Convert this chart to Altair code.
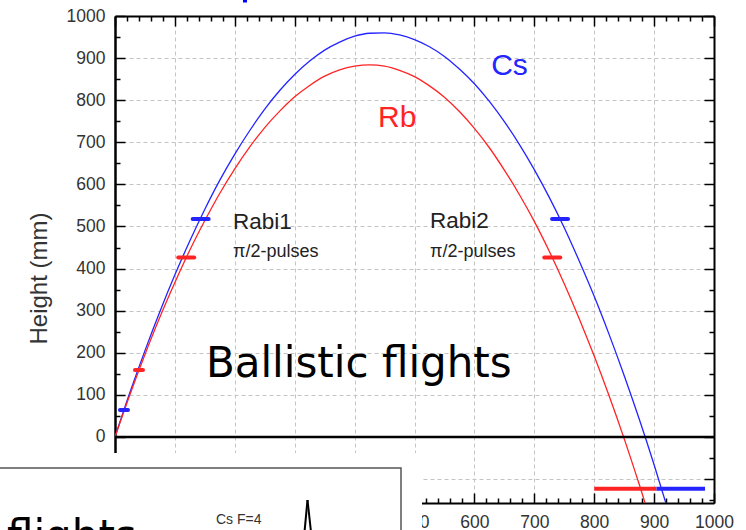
import altair as alt
import pandas as pd

# ---------------- data ----------------
time_ms = [0, 25, 50, 75, 100, 125, 150, 175, 200, 225, 250, 275, 300, 325, 350, 375, 400,
           425, 450, 475, 500, 525, 550, 575, 600, 625, 650, 675, 700, 725, 750, 775, 800,
           825, 850, 875, 900, 925]
cs_height_mm = [0, 106, 205, 298, 385, 466, 541, 610, 672, 728, 779, 823, 861, 893, 919, 938, 952,
                959, 960, 955, 944, 927, 904, 874, 839, 797, 749, 695, 635, 569, 497, 418, 334,
                243, 146, 43, -66, -182]
rb_height_mm = [0, 101, 196, 285, 367, 444, 514, 579, 637, 689, 735, 774, 808, 835, 857, 872, 881,
                884, 881, 871, 856, 834, 807, 773, 733, 687, 634, 576, 512, 441, 364, 281, 192,
                97, -4, -112, -225]

launch_species = ["Cs", "Rb"]
launch_t = [15, 40]
launch_h = [64, 159]

pulse_species = ["Cs", "Rb", "Cs", "Rb"]
pulse_t = [143, 119, 743, 730]
pulse_h = [518, 426, 518, 426]

detect_species = ["Rb", "Cs"]
detect_start = [800, 904]
detect_end = [904, 985]
detect_h = [-123, -123]

species_names = ["Cs", "Rb"]
species_label_t = [628, 439]
species_label_h = [860, 736]

rabi_titles = ["Rabi1", "Rabi2"]
rabi_subtitles = ["π/2-pulses", "π/2-pulses"]
rabi_t = [197, 526]
rabi_title_h = [494, 496]
rabi_sub_h = [428, 428]

center_text = ["Ballistic flights"]
center_t = [407]
center_h = [142]

x_label_values = [0, 100, 200, 300, 400, 500, 600, 700, 800, 900, 1000]
y_label_values = [-100, 0, 100, 200, 300, 400, 500, 600, 700, 800, 900, 1000]
x_minor_values = [v for v in range(0, 1001, 20) if v % 100 != 0]
y_minor_values = [-150, -50, 50, 150, 250, 350, 450, 550, 650, 750, 850, 950]

# ---------------- layout ----------------
W, H = 599, 487
FONT = "Liberation Sans"
AXC = "#333333"

xs = alt.Scale(domain=[0, 1000], nice=False, zero=False)
ys = alt.Scale(domain=[-157, 1000], nice=False, zero=False)
cs = alt.Scale(domain=["Cs", "Rb"], range=["#2424ff", "#ff2424"])

curves = pd.DataFrame({
    "species": ["Cs"] * len(cs_height_mm) + ["Rb"] * len(rb_height_mm),
    "t": time_ms[:len(cs_height_mm)] + time_ms[:len(rb_height_mm)],
    "h": cs_height_mm + rb_height_mm,
})

x_main = alt.Axis(orient="bottom", values=x_label_values, format="d", grid=True,
                  gridColor="#c4c4c4", gridDash=[4, 3], gridWidth=1, ticks=False, domain=True,
                  domainColor="black", domainWidth=2, labelFont=FONT, labelFontSize=17.5,
                  labelColor=AXC, labelPadding=10, labelFlush=False, title=None)
y_main = alt.Axis(orient="left", values=y_label_values, format="d", grid=True,
                  gridColor="#c4c4c4", gridDash=[4, 3], gridWidth=1, ticks=False, domain=True,
                  domainColor="black", domainWidth=2.5, labelFont=FONT, labelFontSize=17.5,
                  labelColor=AXC, labelPadding=10, title="Height (mm)", titleFont=FONT,
                  titleFontSize=24, titleFontWeight="normal", titleColor=AXC, titleX=-76,
                  titleY=262, titleAngle=270, titleBaseline="middle", titleAlign="center")

lines = alt.Chart(curves).mark_line(strokeWidth=1.3, clip=True, interpolate="monotone").encode(
    x=alt.X("t:Q", scale=xs, axis=x_main),
    y=alt.Y("h:Q", scale=ys, axis=y_main),
    color=alt.Color("species:N", scale=cs, legend=None),
)


def tick_axis(orient, offset, values, size, domain=False):
    return alt.Axis(orient=orient, offset=offset, values=values, tickSize=size, ticks=True,
                    tickColor="black", tickWidth=1.5, labels=False, grid=False, domain=domain,
                    domainColor="black", domainWidth=2, title=None)


def frame_layer(x_axis, y_axis):
    return alt.Chart(curves).mark_point(opacity=0).encode(
        x=alt.X("t:Q", scale=xs, axis=x_axis),
        y=alt.Y("h:Q", scale=ys, axis=y_axis),
    )


f1 = frame_layer(tick_axis("top", -H, x_label_values, 10), tick_axis("right", -W, y_label_values, 10))
f2 = frame_layer(tick_axis("bottom", -H, x_label_values, 10, True), tick_axis("left", -W, y_label_values, 10, True))
f3 = frame_layer(tick_axis("top", -H, x_minor_values, 5), tick_axis("right", -W, y_minor_values, 5))
f4 = frame_layer(tick_axis("bottom", -H, x_minor_values, 5), tick_axis("left", -W, y_minor_values, 5))

zero = alt.Chart(pd.DataFrame({"h": [0]})).mark_rule(color="black", strokeWidth=2.5).encode(
    y=alt.Y("h:Q", scale=ys, axis=None))

launch = alt.Chart(pd.DataFrame({"species": launch_species, "t": launch_t, "h": launch_h})).mark_point(
    shape="stroke", filled=False, size=64, strokeWidth=4, strokeCap="round", opacity=1).encode(
    x=alt.X("t:Q", scale=xs, axis=None), y=alt.Y("h:Q", scale=ys, axis=None),
    color=alt.Color("species:N", scale=cs, legend=None))

pulses = alt.Chart(pd.DataFrame({"species": pulse_species, "t": pulse_t, "h": pulse_h})).mark_point(
    shape="stroke", filled=False, size=256, strokeWidth=4, strokeCap="round", opacity=1).encode(
    x=alt.X("t:Q", scale=xs, axis=None), y=alt.Y("h:Q", scale=ys, axis=None),
    color=alt.Color("species:N", scale=cs, legend=None))

detect = alt.Chart(pd.DataFrame({"species": detect_species, "t0": detect_start, "t1": detect_end,
                                 "h": detect_h})).mark_rule(strokeWidth=4).encode(
    x=alt.X("t0:Q", scale=xs, axis=None), x2="t1:Q", y=alt.Y("h:Q", scale=ys, axis=None),
    color=alt.Color("species:N", scale=cs, legend=None))

species_labels = alt.Chart(pd.DataFrame({"species": species_names, "t": species_label_t,
                                         "h": species_label_h})).mark_text(
    font=FONT, fontSize=30, align="left", baseline="alphabetic").encode(
    x=alt.X("t:Q", scale=xs, axis=None), y=alt.Y("h:Q", scale=ys, axis=None),
    text="species:N", color=alt.Color("species:N", scale=cs, legend=None))

rabi_df = pd.DataFrame({"title": rabi_titles, "sub": rabi_subtitles, "t": rabi_t,
                        "h1": rabi_title_h, "h2": rabi_sub_h})
rabi1 = alt.Chart(rabi_df).mark_text(font=FONT, fontSize=22.5, align="left", baseline="alphabetic",
                                     color="#222222").encode(
    x=alt.X("t:Q", scale=xs, axis=None), y=alt.Y("h1:Q", scale=ys, axis=None), text="title:N")
rabi2 = alt.Chart(rabi_df).mark_text(font=FONT, fontSize=18, align="left", baseline="alphabetic",
                                     color="#222222").encode(
    x=alt.X("t:Q", scale=xs, axis=None), y=alt.Y("h2:Q", scale=ys, axis=None), text="sub:N")

ballistic = alt.Chart(pd.DataFrame({"label": center_text, "t": center_t, "h": center_h})).mark_text(
    font="DejaVu Sans", fontSize=42, align="center", baseline="alphabetic", color="black").encode(
    x=alt.X("t:Q", scale=xs, axis=None), y=alt.Y("h:Q", scale=ys, axis=None), text="label:N")

# ---------------- overlapping slide elements (outside the plot) ----------------
one = pd.DataFrame({"k": [0]})
cover = alt.Chart(one).mark_rect(fill="white").encode(
    x=alt.value(-115), x2=alt.value(307), y=alt.value(437), y2=alt.value(530))
box = alt.Chart(one).mark_rect(fill="white", stroke="#555555", strokeWidth=1.5).encode(
    x=alt.value(-130), x2=alt.value(286), y=alt.value(452), y2=alt.value(540))
flights = alt.Chart(one).mark_text(text="flights", font="DejaVu Sans", fontSize=42, align="left",
                                   baseline="alphabetic", color="black").encode(
    x=alt.value(-108), y=alt.value(534))
csf = alt.Chart(one).mark_text(text="Cs F=4", font=FONT, fontSize=14, align="left",
                               baseline="middle", color="#333333").encode(
    x=alt.value(101), y=alt.value(504))
peak_l = alt.Chart(one).mark_rule(color="black", strokeWidth=2).encode(
    x=alt.value(189.5), x2=alt.value(192.5), y=alt.value(516), y2=alt.value(484))
peak_r = alt.Chart(one).mark_rule(color="black", strokeWidth=2).encode(
    x=alt.value(192.5), x2=alt.value(196), y=alt.value(484), y2=alt.value(516))
blob = alt.Chart(one).mark_rule(color="#0000ff", strokeWidth=4).encode(
    x=alt.value(130), y=alt.value(-17), y2=alt.value(-13.5))

chart = alt.layer(
    lines, f1, f2, f3, f4, zero, launch, pulses, detect, species_labels, rabi1, rabi2,
    ballistic, cover, box, flights, csf, peak_l, peak_r, blob,
).resolve_axis(x="independent", y="independent").properties(
    width=W, height=H,
    autosize=alt.AutoSizeParams(type="none"),
    padding={"left": 115, "top": 16, "right": 32, "bottom": 27},
    background="white",
).configure_view(strokeWidth=0)

chart.save("out.html", embed_options={"renderer": "svg", "actions": False})
